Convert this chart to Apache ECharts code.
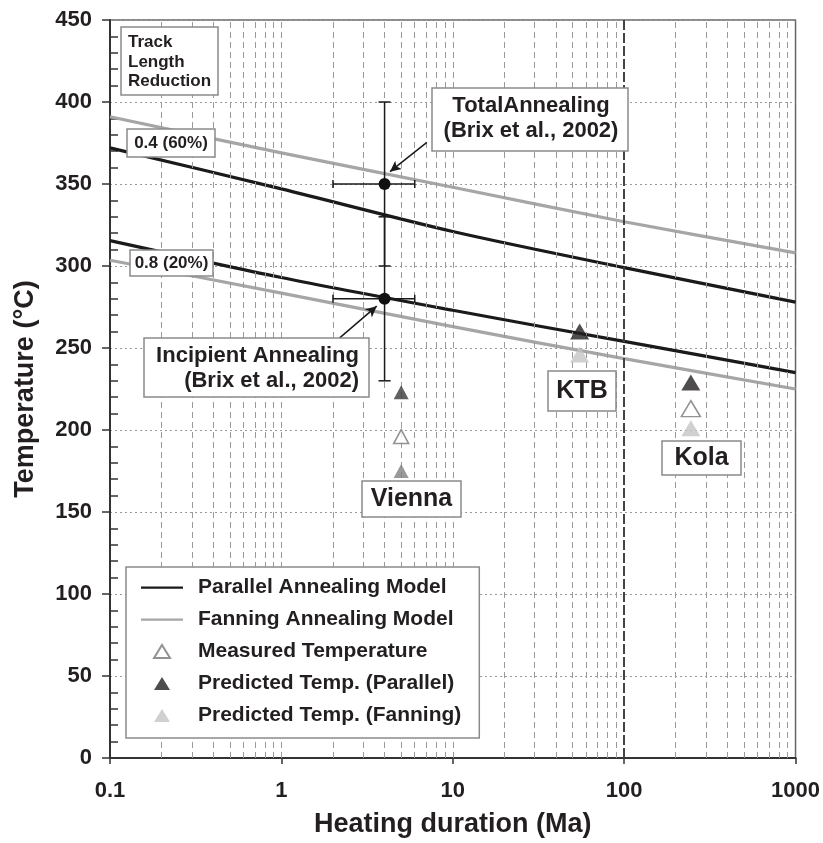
<!DOCTYPE html>
<html>
<head>
<meta charset="utf-8">
<script src="https://cdn.jsdelivr.net/npm/echarts@6/dist/echarts.min.js"></script>
<style>
    html, body { margin: 0; padding: 0; background: #fff; }
    #chart { width: 823px; height: 843px; }
</style>
</head>
<body>
<div id="chart"></div>
<script>
    // heating duration (Ma) where the model curves were read
    var durations = [0.1, 1, 10, 100, 1000];
    // track length reduction 0.4 (60%)
    var parallel60 = [372, 347, 321, 299, 278];
    var fanning60 = [391, 369, 348, 327, 308];
    // track length reduction 0.8 (20%)
    var parallel20 = [315.5, 293, 273, 254, 235];
    var fanning20 = [303.5, 283.5, 263, 243.5, 225];

    // Brix et al., 2002: total / incipient annealing with error ranges
    var brixAge = [4, 4];
    var brixTemp = [350, 280];
    var brixAgeRange = [[2, 6], [2, 6]];
    var brixTempRange = [[300, 400], [230, 330]];

    // boreholes
    var siteNames = ['Vienna', 'KTB', 'Kola'];
    var siteAge = [5, 55, 245];
    var measuredTemp = [196, null, 213];
    var predParallel = [223, 260, 229];
    var predFanning = [175, 246, 201];

    var xTickLabels = ['0.1', '1', '10', '100', '1000'];

    var font = "'Liberation Sans', Arial, sans-serif";
    var ink = '#231f20';

    function pairs(xs, ys) {
        var out = [];
        for (var i = 0; i < xs.length; i++) {
            if (ys[i] != null) out.push([xs[i], ys[i]]);
        }
        return out;
    }

    // dashed vertical grid at 1..9 of every decade (100 is drawn apart)
    var gridX = [];
    for (var d = 0.1; d < 1000; d *= 10) {
        for (var k = 1; k <= 9; k++) {
            var v = +(d * k).toPrecision(3);
            if (v > 0.1 && v !== 100) gridX.push({xAxis: v});
        }
    }

    var brixData = [];
    for (var i = 0; i < brixAge.length; i++) {
        brixData.push([brixAge[i], brixTemp[i], brixAgeRange[i][0], brixAgeRange[i][1], brixTempRange[i][0], brixTempRange[i][1]]);
    }

    function siteSize(v, p) {
        return p.dataIndex === 0 ? [15, 14] : [19, 16];
    }

    function boxText(x, y, w, h, text, fontSize, lh, align, tx, ty) {
        return {
            type: 'group',
            children: [
                {type: 'rect', z: 100, shape: {x: x, y: y, width: w, height: h},
                    style: {fill: '#fff', stroke: '#8a8a8a', lineWidth: 1.5}},
                {type: 'text', z: 101, x: tx, y: ty,
                    style: {text: text, fill: ink, font: 'bold ' + fontSize + 'px ' + font,
                        lineHeight: lh, align: align, verticalAlign: 'middle'}}
            ]
        };
    }

    // legend icons padded to the 42x14 icon box
    var lineIcon = 'path://M0,0M42,14M0,6L42,6L42,8.2L0,8.2Z';
    var triIcon = 'path://M0,0M42,14M21,0.5L29,13.5L13,13.5Z';

    var mycharts = echarts.init(document.getElementById('chart'));

    var option = {
        animation: false,
        backgroundColor: '#fff',
        grid: {left: 110, right: 17, top: 20, bottom: 84, show: true, borderColor: '#666', borderWidth: 1.5, backgroundColor: '#fff'},
        xAxis: {
            type: 'log', logBase: 10, min: 0.1, max: 1000,
            name: 'Heating duration (Ma)', nameLocation: 'middle', nameGap: 53,
            nameTextStyle: {fontSize: 27, fontWeight: 'bold', color: ink, fontFamily: font},
            axisLine: {lineStyle: {color: '#333', width: 2}},
            axisTick: {length: 6, lineStyle: {color: '#333', width: 1.5}},
            axisLabel: {
                margin: 22, fontSize: 22, fontWeight: 'bold', color: ink, fontFamily: font,
                formatter: function (v) {
                    var s = String(+v.toPrecision(3));
                    return xTickLabels.indexOf(s) >= 0 ? s : '';
                }
            },
            splitLine: {show: false}
        },
        yAxis: [
            {
                type: 'value', min: 0, max: 450, interval: 50,
                name: 'Temperature (°C)', nameLocation: 'middle', nameGap: 71,
                nameTextStyle: {fontSize: 27, fontWeight: 'bold', color: ink, fontFamily: font},
                axisLine: {show: true, lineStyle: {color: '#333', width: 2}},
                axisTick: {length: 8, lineStyle: {color: '#333', width: 1.5}},
                axisLabel: {margin: 18, fontSize: 22, fontWeight: 'bold', color: ink, fontFamily: font},
                splitLine: {show: true, lineStyle: {color: '#9a9a9a', type: [2, 3], width: 1}}
            },
            {
                // minor ticks pointing into the plot
                type: 'value', min: 0, max: 450, interval: 50, position: 'left',
                axisLine: {show: false},
                axisTick: {show: false, inside: true},
                minorTick: {show: true, splitNumber: 5, length: 8, lineStyle: {color: '#333', width: 1.5}},
                axisLabel: {show: false},
                splitLine: {show: false}
            }
        ],
        legend: {
            orient: 'vertical', left: 126, top: 567,
            padding: [10, 18, 12, 14], itemGap: 11, itemWidth: 42, itemHeight: 14,
            backgroundColor: '#fff', borderColor: '#8a8a8a', borderWidth: 1.5,
            textStyle: {fontSize: 21, fontWeight: 'bold', color: ink, fontFamily: font, padding: [0, 0, 0, 10]},
            data: [
                {name: 'Parallel Annealing Model', icon: lineIcon},
                {name: 'Fanning Annealing Model', icon: lineIcon},
                {name: 'Measured Temperature', icon: triIcon},
                {name: 'Predicted Temp. (Parallel)', icon: triIcon},
                {name: 'Predicted Temp. (Fanning)', icon: triIcon}
            ],
            z: 50
        },
        series: [
            {
                // grid decoration
                type: 'line', data: [], silent: true, z: 1,
                markLine: {
                    silent: true, symbol: 'none', label: {show: false},
                    lineStyle: {color: '#9a9a9a', type: [6, 4], width: 1},
                    data: gridX.concat([
                        {xAxis: 100, lineStyle: {color: '#444', type: [10, 3], width: 2}}
                    ])
                }
            },
            {
                name: 'Parallel Annealing Model', type: 'line', symbol: 'none', smooth: 0.3, z: 3,
                lineStyle: {color: '#1a1a1a', width: 3.2}, itemStyle: {color: '#1a1a1a'},
                data: pairs(durations, parallel60)
            },
            {
                name: 'Parallel Annealing Model', type: 'line', symbol: 'none', smooth: 0.3, z: 3,
                lineStyle: {color: '#1a1a1a', width: 3.2}, itemStyle: {color: '#1a1a1a'},
                data: pairs(durations, parallel20)
            },
            {
                name: 'Fanning Annealing Model', type: 'line', symbol: 'none', smooth: 0.3, z: 3,
                lineStyle: {color: '#a6a6a6', width: 3.2}, itemStyle: {color: '#a6a6a6'},
                data: pairs(durations, fanning60)
            },
            {
                name: 'Fanning Annealing Model', type: 'line', symbol: 'none', smooth: 0.3, z: 3,
                lineStyle: {color: '#a6a6a6', width: 3.2}, itemStyle: {color: '#a6a6a6'},
                data: pairs(durations, fanning20)
            },
            {
                type: 'custom', z: 6, silent: true,
                data: brixData,
                renderItem: function (params, api) {
                    var c = api.coord([api.value(0), api.value(1)]);
                    var l = api.coord([api.value(2), api.value(1)]);
                    var r = api.coord([api.value(3), api.value(1)]);
                    var lo = api.coord([api.value(0), api.value(4)]);
                    var hi = api.coord([api.value(0), api.value(5)]);
                    var st = {stroke: '#1a1a1a', lineWidth: 1.5};
                    var cap = 6, capV = 4;
                    return {
                        type: 'group',
                        children: [
                            {type: 'line', shape: {x1: l[0], y1: l[1], x2: r[0], y2: r[1]}, style: st},
                            {type: 'line', shape: {x1: l[0], y1: l[1] - capV, x2: l[0], y2: l[1] + capV}, style: st},
                            {type: 'line', shape: {x1: r[0], y1: r[1] - capV, x2: r[0], y2: r[1] + capV}, style: st},
                            {type: 'line', shape: {x1: lo[0], y1: lo[1], x2: hi[0], y2: hi[1]}, style: st},
                            {type: 'line', shape: {x1: lo[0] - cap, y1: lo[1], x2: lo[0] + cap, y2: lo[1]}, style: st},
                            {type: 'line', shape: {x1: hi[0] - cap, y1: hi[1], x2: hi[0] + cap, y2: hi[1]}, style: st},
                            {type: 'circle', shape: {cx: c[0], cy: c[1], r: 6}, style: {fill: '#111'}}
                        ]
                    };
                }
            },
            {
                // annotation arrows to the Brix points
                type: 'line', data: [], silent: true, z: 7,
                markLine: {
                    silent: true, symbol: ['none', 'arrow'], symbolSize: [8, 11], label: {show: false},
                    lineStyle: {color: '#1a1a1a', type: 'solid', width: 1.5},
                    data: [
                        [{coord: [7.06, 375.4]}, {coord: [4.3, 357.5]}],
                        [{coord: [2.18, 256]}, {coord: [3.6, 275.5]}]
                    ]
                }
            },
            {
                name: 'Measured Temperature', type: 'scatter', symbol: 'triangle', z: 8,
                symbolSize: siteSize,
                itemStyle: {color: '#fff', borderColor: '#777', borderWidth: 1.5},
                data: pairs(siteAge, measuredTemp)
            },
            {
                name: 'Predicted Temp. (Parallel)', type: 'scatter', symbol: 'triangle', z: 8,
                symbolSize: siteSize,
                itemStyle: {color: '#231f20'},
                data: pairs(siteAge, predParallel).map(function (p, i) {
                    return i === 0 ? {value: p, itemStyle: {color: '#3a3a3a'}} : p;
                })
            },
            {
                name: 'Predicted Temp. (Fanning)', type: 'scatter', symbol: 'triangle', z: 8,
                symbolSize: siteSize,
                itemStyle: {color: '#c4c4c4'},
                data: pairs(siteAge, predFanning).map(function (p, i) {
                    return i === 0 ? {value: p, itemStyle: {color: '#808080'}} : p;
                })
            }
        ],
        graphic: [
            boxText(121, 27, 97, 68, 'Track\nLength\nReduction', 17, 19.5, 'left', 128, 62),
            boxText(127, 129, 88, 28, '0.4 (60%)', 17, 20, 'center', 171, 143),
            boxText(130, 250, 83, 26, '0.8 (20%)', 17, 20, 'center', 171.5, 263),
            boxText(432, 88, 196, 63, 'TotalAnnealing\n(Brix et al., 2002)', 22, 25, 'center', 531, 118),
            boxText(144, 338, 225, 59, 'Incipient Annealing\n(Brix et al., 2002)', 22, 25, 'right', 359, 368),
            boxText(362, 481, 99, 36, siteNames[0], 25, 28, 'center', 411.5, 499),
            boxText(548, 371, 68, 40, siteNames[1], 25, 28, 'center', 582, 391),
            boxText(662, 441, 79, 34, siteNames[2], 25, 28, 'center', 701.5, 458)
        ]
    };

    mycharts.setOption(option);
</script>
</body>
</html>
